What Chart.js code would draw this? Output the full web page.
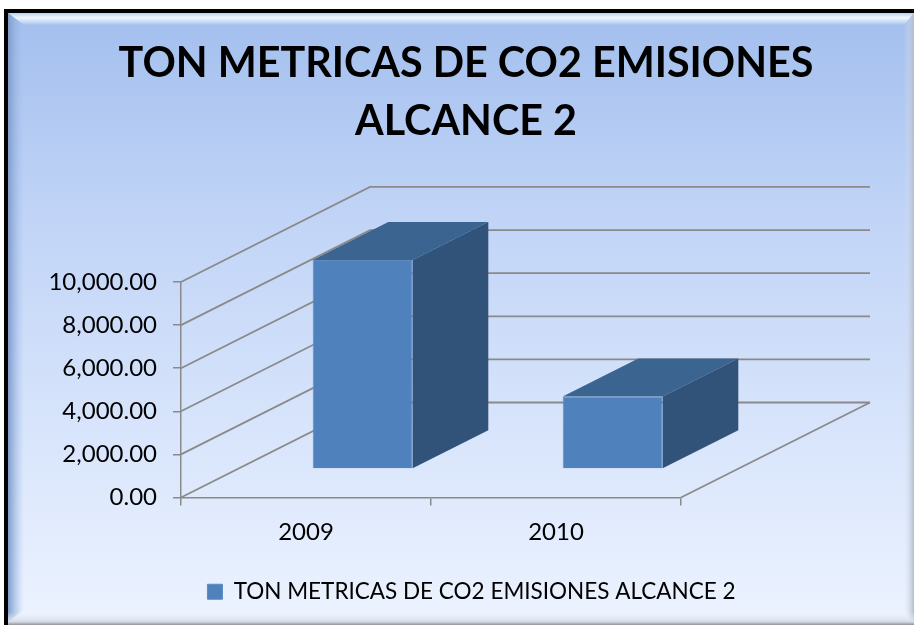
<!DOCTYPE html>
<html>
<head>
<meta charset="utf-8">
<title>TON METRICAS DE CO2 EMISIONES ALCANCE 2</title>
<script src="https://cdn.jsdelivr.net/npm/chart.js@4/dist/chart.umd.min.js"></script>
<style>
  html, body { margin: 0; padding: 0; background: #fff; }
  canvas { display: block; }
</style>
</head>
<body>
<canvas id="co2Chart" width="914" height="625"></canvas>
<script>
var categories = ['2009', '2010'];
var seriesName = 'TON METRICAS DE CO2 EMISIONES ALCANCE 2';
var seriesValues = [9700, 3360];
var titleLines = ['TON METRICAS DE CO2 EMISIONES', 'ALCANCE 2'];
var yMax = 10000;
var yStep = 2000;

var lineGray = '#8a8a8a';
var depthX = 189, depthY = 95;    // how far the floor runs back
var gapShare = 0.3, barShare = 0.4; // where the bar sits in that depth

// panel background, bevel and the black edge
var panelPlugin = {
    id: 'panel',
    beforeDraw: function (chart) {
        var ctx = chart.ctx;
        var w = chart.width, h = chart.height;
        ctx.save();
        var g = ctx.createLinearGradient(0, 13, 0, 622);
        g.addColorStop(0, '#a3bfee');
        g.addColorStop(0.35, '#c2d5f7');
        g.addColorStop(1, '#ecf3ff');
        ctx.fillStyle = g;
        ctx.fillRect(8, 13, w - 8, 609);

        // top bevel
        g = ctx.createLinearGradient(0, 13, 0, 25);
        g.addColorStop(0, '#bcd0ee');
        g.addColorStop(0.4, '#eef7fe');
        g.addColorStop(1, '#a9c3ee');
        ctx.fillStyle = g;
        ctx.beginPath();
        ctx.moveTo(8, 13); ctx.lineTo(w, 13); ctx.lineTo(w - 10, 25); ctx.lineTo(24, 25);
        ctx.closePath();
        ctx.fill();

        // left bevel
        g = ctx.createLinearGradient(8, 0, 24, 0);
        g.addColorStop(0, '#7f9cc9');
        g.addColorStop(1, 'rgba(163,191,238,0)');
        ctx.fillStyle = g;
        ctx.beginPath();
        ctx.moveTo(8, 13); ctx.lineTo(24, 25); ctx.lineTo(24, 610); ctx.lineTo(8, 622);
        ctx.closePath();
        ctx.fill();

        // right bevel
        g = ctx.createLinearGradient(w - 10, 0, w, 0);
        g.addColorStop(0, 'rgba(220,230,248,0)');
        g.addColorStop(1, '#b4bdca');
        ctx.fillStyle = g;
        ctx.beginPath();
        ctx.moveTo(w, 13); ctx.lineTo(w - 10, 25); ctx.lineTo(w - 10, 612); ctx.lineTo(w, 622);
        ctx.closePath();
        ctx.fill();

        // bottom bevel
        g = ctx.createLinearGradient(0, 612, 0, 625);
        g.addColorStop(0, 'rgba(236,243,255,0)');
        g.addColorStop(0.75, '#d5dbe5');
        g.addColorStop(1, '#8f939a');
        ctx.fillStyle = g;
        ctx.fillRect(8, 612, w - 8, 13);

        ctx.fillStyle = '#000';
        ctx.fillRect(4, 9, w - 4, 4);
        ctx.fillRect(4, 9, 4, h - 9);
        ctx.restore();
    }
};

// 3D look: walls and floor from the scales, then side and top of each bar
var depthPlugin = {
    id: 'depth',
    afterLayout: function (chart) {
        // title and legend are centred on the panel, not on the plot
        chart.titleBlock.left = 0;
        chart.titleBlock.right = 932;
        chart.legend.left = 0;
        chart.legend.right = 943;
    },
    beforeDatasetsDraw: function (chart) {
        var ctx = chart.ctx;
        var x = chart.scales.x, y = chart.scales.y;
        ctx.save();
        ctx.strokeStyle = lineGray;
        ctx.lineWidth = 1.8;
        y.ticks.forEach(function (t) {
            var py = y.getPixelForValue(t.value);
            ctx.beginPath();
            ctx.moveTo(x.left, py);
            ctx.lineTo(x.left + depthX, py - depthY);
            ctx.lineTo(x.right + depthX, py - depthY);
            ctx.stroke();
        });
        var floor = y.getPixelForValue(0);
        ctx.beginPath();
        ctx.moveTo(x.right, floor);
        ctx.lineTo(x.right + depthX, floor - depthY);
        ctx.stroke();
        ctx.restore();

        // the library draws the front faces, pushed back onto the floor
        ctx.save();
        ctx.translate(depthX * gapShare, -depthY * gapShare);
        var dx = depthX * barShare, dy = depthY * barShare;
        chart.getDatasetMeta(0).data.forEach(function (bar) {
            var l = bar.x - bar.width / 2, r = bar.x + bar.width / 2;
            ctx.fillStyle = '#3c6491';
            ctx.beginPath();
            ctx.moveTo(l, bar.y);
            ctx.lineTo(l + dx, bar.y - dy);
            ctx.lineTo(r + dx, bar.y - dy);
            ctx.lineTo(r, bar.y);
            ctx.closePath();
            ctx.fill();
            ctx.fillStyle = '#325379';
            ctx.beginPath();
            ctx.moveTo(r, bar.y);
            ctx.lineTo(r + dx, bar.y - dy);
            ctx.lineTo(r + dx, bar.base - dy);
            ctx.lineTo(r, bar.base);
            ctx.closePath();
            ctx.fill();
        });
    },
    afterDatasetsDraw: function (chart) {
        chart.ctx.restore();
    }
};

new Chart(document.getElementById('co2Chart'), {
    type: 'bar',
    data: {
        labels: categories,
        datasets: [{
            label: seriesName,
            data: seriesValues,
            backgroundColor: '#4f81bd',
            borderColor: '#5d8bc2',
            borderWidth: 1,
            categoryPercentage: 1,
            barPercentage: 0.4
        }]
    },
    plugins: [panelPlugin, depthPlugin],
    options: {
        responsive: false,
        animation: false,
        layout: { padding: { left: 0, right: 233, top: 0, bottom: 12 } },
        plugins: {
            tooltip: { enabled: false },
            title: {
                display: true,
                text: titleLines,
                color: '#000',
                font: { family: 'Lato', size: 41.3, weight: 'bold', lineHeight: 1.404 },
                padding: { top: 35, bottom: 131 }
            },
            legend: {
                position: 'bottom',
                labels: {
                    boxWidth: 15,
                    boxHeight: 15,
                    color: '#000',
                    font: { family: 'Lato', size: 22.5 },
                    padding: 10
                }
            }
        },
        scales: {
            x: {
                afterFit: function (s) { s.height = 73; },
                border: { color: lineGray, width: 1.5 },
                grid: { drawOnChartArea: false, color: lineGray, lineWidth: 1.5, tickLength: 8 },
                ticks: { color: '#000', font: { family: 'Lato', size: 24 }, padding: 12, maxRotation: 0 }
            },
            y: {
                min: 0,
                max: yMax,
                afterFit: function (s) { s.width = 181; },
                border: { color: lineGray, width: 1.5 },
                grid: { drawOnChartArea: false, color: lineGray, lineWidth: 1.5, tickLength: 8 },
                ticks: {
                    stepSize: yStep,
                    color: '#000',
                    font: { family: 'Lato', size: 24 },
                    padding: 16,
                    callback: function (v) {
                        return v.toLocaleString('en-US', { minimumFractionDigits: 2, maximumFractionDigits: 2 });
                    }
                }
            }
        }
    }
});
</script>
</body>
</html>
